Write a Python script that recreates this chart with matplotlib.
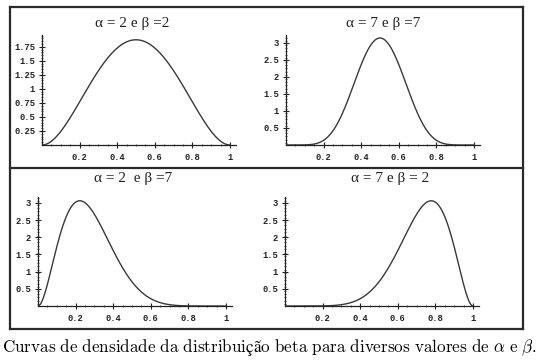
import math
import numpy as np
import matplotlib
matplotlib.use("Agg")
import matplotlib.pyplot as plt
from matplotlib.lines import Line2D
from matplotlib.font_manager import FontProperties

# shape parameters actually drawn in each panel (peaks)
titles = ["α = 2 e β =2", "α = 7 e β =7", "α = 2  e β =7", "α = 7 e β = 2"]
shape_a = [3, 8, 3, 8]
shape_b = [3, 8, 8, 3]
ylims = [1.96, 3.23, 3.17, 3.17]
xtick_vals = [0.2, 0.4, 0.6, 0.8, 1.0]
xtick_labels = ["0.2", "0.4", "0.6", "0.8", "1"]
ytick_vals = [[0.25, 0.5, 0.75, 1.0, 1.25, 1.5, 1.75],
              [0.5, 1.0, 1.5, 2.0, 2.5, 3.0],
              [0.5, 1.0, 1.5, 2.0, 2.5, 3.0],
              [0.5, 1.0, 1.5, 2.0, 2.5, 3.0]]
ytick_labels = [["0.25", "0.5", "0.75", "1", "1.25", "1.5", "1.75"],
                ["0.5", "1", "1.5", "2", "2.5", "3"],
                ["0.5", "1", "1.5", "2", "2.5", "3"],
                ["0.5", "1", "1.5", "2", "2.5", "3"]]
caption = (r"$\mathrm{Curvas\ de\ densidade\ da\ distribuição\ beta\ para\ "
           r"diversos\ valores\ de\ }\alpha\mathrm{\ e\ }\beta\mathrm{.}$")


def beta_pdf(x, a, b):
    c = math.gamma(a + b) / (math.gamma(a) * math.gamma(b))
    return c * x ** (a - 1) * (1 - x) ** (b - 1)


W, H = 538, 363
plt.rcParams['mathtext.fontset'] = 'cm'
fig = plt.figure(figsize=(W / 100, H / 100), dpi=100)

def fx(px):
    return px / W

def fy(py):
    return 1 - py / H

title_font = FontProperties(family=['Liberation Serif', 'DejaVu Serif'], size=11)
tick_font = FontProperties(family='Liberation Mono', weight='bold', size=6.3)

# axes boxes in pixels: x of y-axis, y of x-axis, top pixel
boxes = [(42, 145, 35), (286, 145, 35), (38, 306, 197), (285, 306, 197)]
title_pos = [(132, 23), (383, 23), (133, 178), (390, 178)]
px_per_unit = 188

x = np.linspace(0, 1, 400)
for i in range(4):
    x0, yb, yt = boxes[i]
    ax = fig.add_axes([fx(x0), fy(yb), px_per_unit * 1.03 / W, (yb - yt) / H])
    ax.plot(x, beta_pdf(x, shape_a[i], shape_b[i]), color='#3a3a3a', lw=1.0)
    ax.set_xlim(0, 1.03)
    ax.set_ylim(0, ylims[i])
    for s in ['top', 'right']:
        ax.spines[s].set_visible(False)
    for s in ['left', 'bottom']:
        ax.spines[s].set_linewidth(0.9)
        ax.spines[s].set_color('#222222')
    ax.set_xticks(xtick_vals)
    ax.set_xticklabels(xtick_labels, fontproperties=tick_font)
    ax.set_yticks(ytick_vals[i])
    ax.set_yticklabels(ytick_labels[i], fontproperties=tick_font)
    ax.set_xticks(np.arange(0.05, 1.03, 0.05), minor=True)
    ax.set_yticks(np.arange(0.05, ylims[i], ytick_vals[i][0] / 5), minor=True)
    ax.tick_params(which='major', direction='inout', length=4, width=0.8,
                   pad=3, colors='#222222')
    ax.tick_params(which='minor', direction='inout', length=2, width=0.6,
                   colors='#444444')
    ax.tick_params(axis='x', which='major', pad=4)
    ax.patch.set_visible(False)
    tx, ty = title_pos[i]
    fig.text(fx(tx), fy(ty), titles[i], ha='center', va='center',
             fontproperties=title_font, color='#222222')

# outer frame and divider
L, R, T, B, M = 9.5, 522.5, 6.5, 329, 168
frame_kw = dict(color='#2a2a2a', lw=1.6, transform=fig.transFigure)
fig.add_artist(Line2D([fx(L), fx(R)], [fy(T), fy(T)], **frame_kw))
fig.add_artist(Line2D([fx(L), fx(R)], [fy(B), fy(B)], **frame_kw))
fig.add_artist(Line2D([fx(L), fx(L)], [fy(T), fy(B)], **frame_kw))
fig.add_artist(Line2D([fx(R), fx(R)], [fy(T), fy(B)], **frame_kw))
fig.add_artist(Line2D([fx(L), fx(R)], [fy(M), fy(M)], **frame_kw))

fig.text(fx(269), fy(347), caption, ha='center', va='center', fontsize=12.3)

fig.savefig("out.png", dpi=100)
